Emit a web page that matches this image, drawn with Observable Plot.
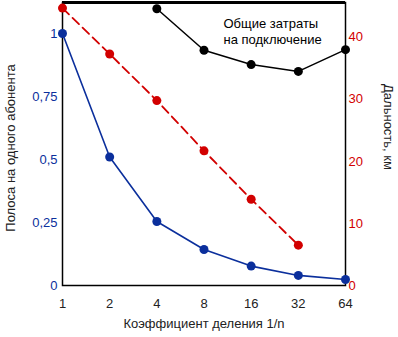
<!DOCTYPE html>
<html>
<head>
<meta charset="utf-8">
<script src="https://cdn.jsdelivr.net/npm/d3@7"></script>
<script src="https://cdn.jsdelivr.net/npm/@observablehq/plot@0.6"></script>
<style>
  html, body { margin: 0; padding: 0; background: #fff; }
  svg { display: block; font-family: "Liberation Sans", Arial, sans-serif; }
</style>
</head>
<body>
<div id="chart"></div>
<script>
// Data
const ratios = [1, 2, 4, 8, 16, 32, 64];
const bandwidth = [1.0, 0.51, 0.254, 0.143, 0.077, 0.04, 0.024];
const rangeRatios = [1, 2, 4, 8, 16, 32];
const rangeKm = [44.7, 37.3, 29.8, 21.7, 13.9, 6.5];
const costRatios = [4, 8, 16, 32, 64];
const costValues = [44.6, 37.9, 35.6, 34.5, 38.0]; // on the right-axis scale
const leftTicks = [0, 0.25, 0.5, 0.75, 1];
const rightTicks = [0, 10, 20, 30, 40];

const leftMax = 1.123;
const rightMax = 45.6;
const k = leftMax / rightMax;

const blue = "#0b2f9c";
const red = "#d20000";

const bwData = ratios.map((x, i) => ({x, y: bandwidth[i]}));
const rangeData = rangeRatios.map((x, i) => ({x, y: rangeKm[i] * k}));
const costData = costRatios.map((x, i) => ({x, y: costValues[i] * k}));

const fmt = d => String(d).replace(".", ",");

const plot = Plot.plot({
  width: 398,
  height: 337,
  marginLeft: 62,
  marginRight: 53,
  marginTop: 2,
  marginBottom: 52,
  style: {fontFamily: "Liberation Sans, Arial, sans-serif", fontSize: "13px", background: "#fff"},
  x: {type: "log", base: 2, domain: [1, 64]},
  y: {domain: [0, leftMax]},
  marks: [
    Plot.axisX({ticks: ratios, tickFormat: d => String(d), tickSize: 0, tickPadding: 13, label: null, fill: "#222", fontSize: 13}),
    Plot.axisY({anchor: "left", ticks: leftTicks, tickFormat: fmt, tickSize: 0, tickPadding: 5, label: null, fill: blue, fontSize: 13}),
    Plot.axisY({anchor: "right", ticks: rightTicks.map(d => d * k), tickFormat: d => String(Math.round(d / k)), tickSize: 0, tickPadding: 3, label: null, fill: red, fontSize: 13}),
    Plot.frame({stroke: "#000", strokeWidth: 1.5}),
    Plot.ruleY([leftMax], {stroke: "#000", strokeWidth: 3}),
    Plot.line(bwData, {x: "x", y: "y", stroke: blue, strokeWidth: 1.6}),
    Plot.dot(bwData, {x: "x", y: "y", r: 4.5, fill: blue}),
    Plot.line(rangeData, {x: "x", y: "y", stroke: red, strokeWidth: 1.8, strokeDasharray: "9,5"}),
    Plot.dot(rangeData, {x: "x", y: "y", r: 4.5, fill: red}),
    Plot.line(costData, {x: "x", y: "y", stroke: "#000", strokeWidth: 1.5}),
    Plot.dot(costData, {x: "x", y: "y", r: 4.5, fill: "#000"}),
    Plot.text(["Общие затраты\nна подключение"], {frameAnchor: "top-left", dx: 161, dy: 14, textAnchor: "start", lineAnchor: "top", lineHeight: 1.25, fontSize: 13, fill: "#000"}),
    Plot.text(["Коэффициент деления 1/n"], {frameAnchor: "bottom", dy: 42, fontSize: 13, fill: "#222"}),
    Plot.text(["Полоса на одного абонента"], {frameAnchor: "left", dx: -52, dy: 4, rotate: -90, textAnchor: "middle", fontSize: 13, fill: "#222"}),
    Plot.text(["Дальность, км"], {frameAnchor: "right", dx: 43, dy: -17, rotate: 90, textAnchor: "middle", fontSize: 13, fill: "#222"})
  ]
});
document.getElementById("chart").appendChild(plot);
</script>
</body>
</html>
